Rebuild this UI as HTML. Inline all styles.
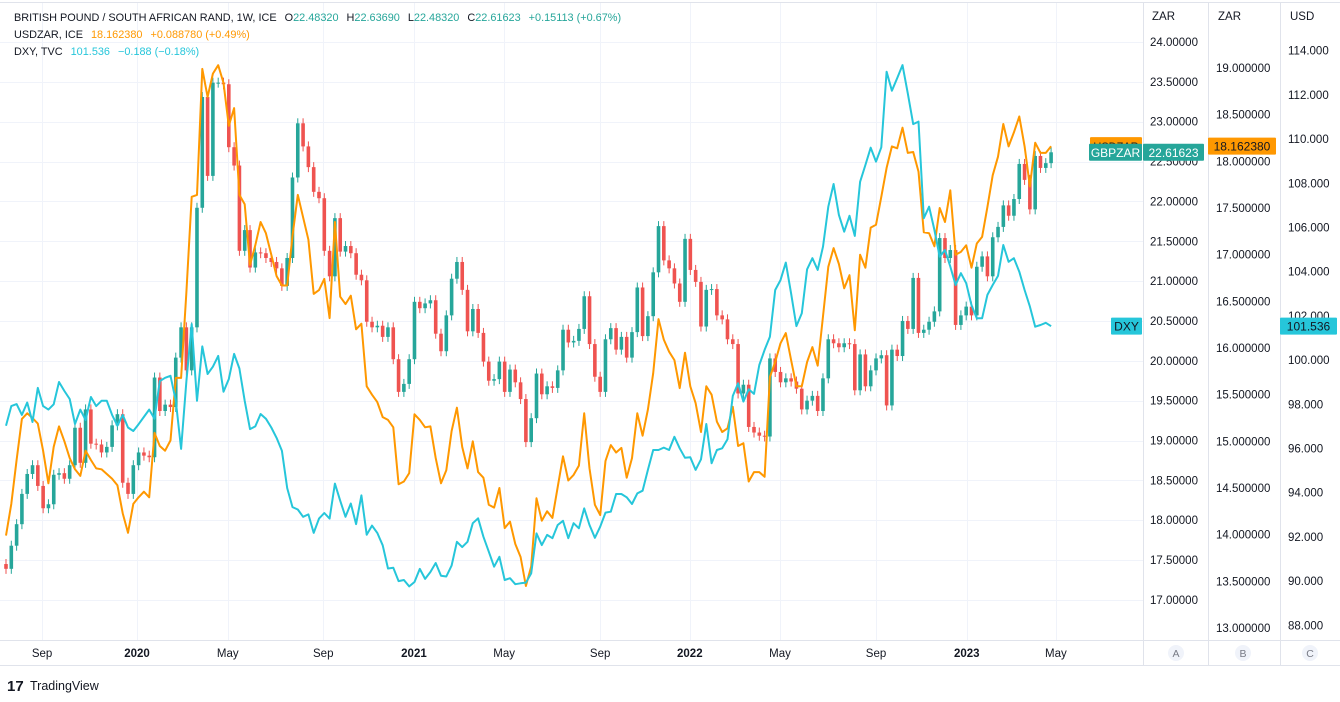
<!DOCTYPE html>
<html><head><meta charset="utf-8"><title>GBPZAR vs USDZAR vs DXY</title>
<style>
html,body{margin:0;padding:0;background:#fff;}
body{width:1340px;height:697px;overflow:hidden;font-family:"Liberation Sans",sans-serif;}
svg text{font-family:"Liberation Sans",sans-serif;}
</style></head>
<body>
<svg id="chart" width="1340" height="697" viewBox="0 0 1340 697" xmlns="http://www.w3.org/2000/svg">
  <rect x="0" y="0" width="1340" height="697" fill="#ffffff"/>
  <g id="grid"></g>
  <g id="candles"></g>
  <g id="lines"></g>
  <g id="axes"></g>
  <g id="legend">
    <text x="14" y="21" font-size="10.9" fill="#131722">BRITISH POUND / SOUTH AFRICAN RAND, 1W, ICE<tspan dx="8">O</tspan><tspan fill="#26a69a">22.48320</tspan><tspan dx="8">H</tspan><tspan fill="#26a69a">22.63690</tspan><tspan dx="8">L</tspan><tspan fill="#26a69a">22.48320</tspan><tspan dx="8">C</tspan><tspan fill="#26a69a">22.61623</tspan><tspan dx="8" fill="#26a69a">+0.15113 (+0.67%)</tspan></text>
    <text x="14" y="38" font-size="10.9" fill="#131722">USDZAR, ICE<tspan dx="8" fill="#ff9800">18.162380</tspan><tspan dx="8" fill="#ff9800">+0.088780 (+0.49%)</tspan></text>
    <text x="14" y="55" font-size="10.9" fill="#131722">DXY, TVC<tspan dx="8" fill="#26c6da">101.536</tspan><tspan dx="8" fill="#26c6da">−0.188 (−0.18%)</tspan></text>
  </g>
  <g>
    <text x="7" y="691" font-size="15" font-weight="bold" fill="#131722">17</text>
    <text x="30" y="690" font-size="12.5" fill="#131722">TradingView</text>
  </g>
</svg>
<script>
// ---- data (weekly, mid-Jul 2019 .. Apr 2023) ----
const gbpzarClose = [17.39,17.68,17.95,18.33,18.58,18.69,18.43,18.15,18.2,18.57,18.59,18.52,18.69,19.16,18.72,19.39,18.96,18.95,18.85,18.92,19.19,19.33,18.47,18.33,18.69,18.85,18.81,18.79,19.79,19.37,19.45,19.42,20.04,20.42,19.88,20.42,21.92,23.31,22.32,23.49,23.49,23.47,22.68,22.45,21.38,
21.64,21.17,21.36,21.35,21.29,21.24,21.16,20.94,21.29,22.3,22.98,22.69,22.43,22.12,22.04,21.38,21.06,21.79,21.37,21.44,21.35,21.08,21.01,20.49,20.42,20.44,20.3,20.42,20.02,19.61,19.71,20.02,20.74,20.66,20.72,20.76,20.34,20.12,20.57,21.03,21.24,20.89,20.37,
20.65,20.35,19.99,19.75,19.77,19.99,19.61,19.89,19.73,19.52,18.98,19.28,19.84,19.58,19.68,19.66,19.88,20.39,20.23,20.25,20.4,20.81,20.21,19.8,19.61,20.27,20.41,20.14,20.3,20.04,20.36,20.92,20.31,20.56,21.11,21.69,21.26,21.16,20.97,20.74,21.53,21.14,20.99,
20.43,20.89,20.9,20.57,20.52,20.27,20.21,19.59,19.7,19.17,19.1,19.06,19.05,20.03,19.86,19.73,19.78,19.74,19.65,19.39,19.5,19.56,19.37,19.78,20.27,20.22,20.17,20.22,20.21,19.63,20.08,19.68,19.88,20.03,20.07,19.44,20.14,20.06,20.5,20.4,21.04,20.35,20.39,20.49,
20.62,21.54,21.29,21.39,20.45,20.57,20.68,20.57,21.18,21.31,21.06,21.55,21.68,21.95,21.82,22.03,22.47,22.27,21.9,22.57,22.42,22.48,22.61623];
const gbpzarFirstOpen = 17.45;
const usdzar = [13.99,14.33,14.8,15.24,15.3,15.25,15.19,14.9,14.55,14.94,15.16,15.0,14.82,14.7,14.63,14.9,14.8,14.71,14.7,14.65,14.6,14.53,14.23,14.02,14.33,14.4,14.46,14.4,15.09,14.95,14.9,15.01,15.68,15.68,16.6,17.62,17.64,18.99,18.69,18.94,19.03,18.84,18.38,18.57,17.64,17.54,16.89,17.1,17.35,17.23,17.0,16.77,16.67,16.67,17.2,17.64,17.4,17.16,16.58,16.62,16.74,16.32,17.35,16.55,16.47,16.56,16.2,16.26,15.59,15.5,15.42,15.26,15.23,15.15,14.54,14.57,14.66,15.29,15.23,15.15,15.16,14.82,14.55,14.69,15.11,15.36,14.94,14.71,15.0,14.67,14.61,14.32,14.29,14.5,14.07,14.14,13.9,13.76,13.45,13.66,14.39,14.15,14.25,14.18,14.51,14.84,14.58,14.64,14.74,15.3,14.71,14.32,14.21,14.79,14.96,14.88,14.93,14.61,14.82,15.3,15.06,15.34,15.73,16.31,16.09,15.96,15.87,15.57,15.95,15.59,15.41,15.1,15.59,15.5,15.21,15.1,15.14,15.37,14.95,14.98,14.57,14.67,14.67,14.62,15.69,15.85,16.05,16.16,15.87,15.59,15.59,15.85,16.01,15.81,16.34,16.87,17.07,16.9,16.64,16.78,16.19,17.0,16.86,17.29,17.32,17.62,17.93,18.16,18.14,18.36,18.09,18.1,17.89,17.24,17.23,17.09,17.5,17.35,17.69,17.0,17.03,17.1,16.86,17.12,17.19,17.51,17.85,18.05,18.4,18.16,18.31,18.48,18.16,17.73,18.2,18.09,18.09,18.16238];
const dxy = [97.03,97.92,98.01,97.52,98.08,97.2,98.74,97.92,97.76,98.0,99.01,98.6,98.24,97.11,97.76,97.29,98.33,97.92,98.16,98.16,97.52,97.03,97.52,96.95,96.79,97.1,97.43,97.76,97.35,99.05,99.2,99.29,98.16,95.98,99.05,101.63,98.16,100.62,99.37,99.7,100.19,98.57,99.14,100.28,99.62,98.16,96.88,97.0,97.56,97.35,96.95,96.48,95.9,94.21,93.35,93.24,92.91,93.02,92.18,92.83,93.08,92.83,94.41,93.64,92.91,93.51,92.58,93.88,92.1,92.51,92.18,91.62,90.57,90.6,90.0,90.05,89.76,89.96,90.55,90.1,90.41,90.82,90.24,90.21,90.7,91.78,91.54,91.78,92.62,92.84,92.01,91.33,90.65,91.1,90.05,90.13,89.86,89.9,89.93,90.35,92.16,91.63,92.09,91.94,92.54,92.73,91.94,92.62,92.39,93.29,92.54,91.96,92.46,93.1,93.14,93.94,93.94,93.79,93.49,93.97,94.09,95.03,95.93,95.93,96.04,95.93,96.53,96.01,95.58,95.6,95.03,95.51,97.11,95.33,95.93,96.01,96.42,98.38,98.95,98.12,98.68,98.47,99.78,100.46,101.06,103.17,103.62,104.41,103.02,101.54,102.12,104.11,104.61,104.08,105.13,106.94,107.97,106.57,105.81,106.53,105.62,108.07,108.83,109.61,108.98,109.63,113.05,112.19,112.76,113.35,112.07,110.68,110.79,106.42,106.94,105.89,104.68,104.98,104.23,103.4,103.93,103.48,102.49,101.89,101.89,102.95,103.4,103.81,105.21,104.45,104.61,104.0,103.17,102.42,101.51,101.59,101.69,101.536];
const timeLabels = ["Sep","2020","May","Sep","2021","May","Sep","2022","May","Sep","2023","May"];
const timeLabelWeeks = [6.8,24.7,41.8,59.8,76.9,93.9,112,128.9,145.9,164,181.1,197.9];
const gbpTicks = ["24.00000","23.50000","23.00000","22.50000","22.00000","21.50000","21.00000","20.50000","20.00000","19.50000","19.00000","18.50000","18.00000","17.50000","17.00000"];
const usdzarTicks = ["19.000000","18.500000","18.000000","17.500000","17.000000","16.500000","16.000000","15.500000","15.000000","14.500000","14.000000","13.500000","13.000000"];
const dxyTicks = ["114.000","112.000","110.000","108.000","106.000","104.000","102.000","100.000","98.000","96.000","94.000","92.000","90.000","88.000"];

// ---- scales ----
const NS = "http://www.w3.org/2000/svg";
const xW = w => 6 + w * 5.305;
const yG = v => 42 + (24 - v) * 79.7;
const yU = v => 68 + (19 - v) * 93.33;
const yD = v => 50.7 + (114 - v) * 22.1;
function mk(tag, attrs, parent){const e=document.createElementNS(NS,tag);for(const k in attrs)e.setAttribute(k,attrs[k]);parent.appendChild(e);return e;}

const grid=document.getElementById('grid'), cg=document.getElementById('candles'), lg=document.getElementById('lines'), ax=document.getElementById('axes');

// grid
mk('line',{x1:0,y1:2.5,x2:1340,y2:2.5,stroke:'#e0e3eb','stroke-width':1},grid);
gbpTicks.forEach(t=>{const y=Math.round(yG(parseFloat(t)))+0.5;
  const g=mk('line',{x1:0,y1:y,x2:1143,y2:y,stroke:'#f0f3fa','stroke-width':1},grid);
  
  });
timeLabelWeeks.forEach(w=>{const x=Math.round(xW(w))+0.5;
  const g=mk('line',{x1:x,y1:3,x2:x,y2:640,stroke:'#f0f3fa','stroke-width':1},grid);
  
  });

// candles
gbpzarClose.forEach((c,i)=>{
  const o = i===0 ? gbpzarFirstOpen : gbpzarClose[i-1];
  const up = c>=o, col = up?'#26a69a':'#ef5350';
  const x = xW(i), yo=yG(o), yc=yG(c);
  const top=Math.min(yo,yc), bot=Math.max(yo,yc);
  const w=mk('line',{x1:x,y1:top-5,x2:x,y2:bot+5,stroke:col,'stroke-width':1},cg);
  
  
  const b=mk('rect',{x:x-1.8,y:top,width:3.6,height:Math.max(1,bot-top),fill:col},cg);
  
  
});

// lines
function line(arr, yf, col, name){
  const d=arr.map((v,i)=>(i?'L':'M')+xW(i).toFixed(1)+','+yf(v).toFixed(1)).join('');
  const p=mk('path',{d:d,fill:'none',stroke:col,'stroke-width':2,'stroke-linejoin':'round'},lg);
  
  
}
line(usdzar,yU,'#ff9800','usdzar-line');
line(dxy,yD,'#26c6da','dxy-line');

// axes panels
mk('rect',{x:1143,y:3,width:197,height:637,fill:'#fff'},ax);
[1143,1208,1280].forEach(x=>{const l=mk('line',{x1:x+0.5,y1:3,x2:x+0.5,y2:665,stroke:'#e0e3eb'},ax);
  
  });
mk('line',{x1:0,y1:640.5,x2:1340,y2:640.5,stroke:'#e0e3eb'},ax);
mk('line',{x1:0,y1:665.5,x2:1340,y2:665.5,stroke:'#e0e3eb'},ax);
[['ZAR',1152,'gbpzar-axis-title'],['ZAR',1218,'usdzar-axis-title'],['USD',1290,'dxy-axis-title']].forEach(a=>{
  const t=mk('text',{x:a[1],y:20,'font-size':11.5,fill:'#131722'},ax);t.textContent=a[0];
  
  });
gbpTicks.forEach(t=>{const e=mk('text',{x:1150,y:yG(parseFloat(t))+4,'font-size':11.5,fill:'#131722'},ax);e.textContent=t;
  
  });
usdzarTicks.forEach(t=>{const e=mk('text',{x:1216,y:yU(parseFloat(t))+4,'font-size':11.5,fill:'#131722'},ax);e.textContent=t;
  
  });
dxyTicks.forEach(t=>{const e=mk('text',{x:1288,y:yD(parseFloat(t))+4,'font-size':11.5,fill:'#131722'},ax);e.textContent=t;
  
  });
timeLabels.forEach((t,i)=>{const e=mk('text',{x:xW(timeLabelWeeks[i]),y:657,'font-size':11.5,fill:'#131722','text-anchor':'middle','font-weight':/^\d/.test(t)?'bold':'normal'},ax);e.textContent=t;
  
  });
['A','B','C'].forEach((t,i)=>{const cx=[1176,1243,1310][i];
  const c=mk('circle',{cx:cx,cy:653,r:8,fill:'#f0f3fa'},ax);
  
  
  const e=mk('text',{x:cx,y:657,'font-size':10.5,fill:'#787b86','text-anchor':'middle'},ax);e.textContent=t;});

// price badges
function badge(x,y,w,h,col,txt,name,fs,tc){const g=mk('g',{},ax);
  
  
  mk('rect',{x:x,y:y,width:w,height:h,fill:col,rx:1},g);
  const t=mk('text',{x:x+w/2,y:y+h/2+4.5,'font-size':fs||12,fill:tc,'text-anchor':'middle'},g);t.textContent=txt;}
const lastG=gbpzarClose[gbpzarClose.length-1], lastU=usdzar[usdzar.length-1], lastD=dxy[dxy.length-1];
badge(1090,yU(lastU)-9,52,17,'#ff9800','USDZAR','usdzar-name-tag',11,'#131722');
badge(1089,yG(lastG)-8.5,53,17,'#26a69a','GBPZAR','gbpzar-name-tag',12,'#fff');
badge(1143,yG(lastG)-8.5,61,17,'#26a69a',lastG.toFixed(5),'gbpzar-price-tag',12,'#fff');
badge(1208,yU(lastU)-8.5,68,17,'#ff9800',lastU.toFixed(6),'usdzar-price-tag',12,'#131722');
badge(1111,yD(lastD)-8.5,31,17,'#26c6da','DXY','dxy-name-tag',12,'#131722');
badge(1280,yD(lastD)-8.5,57,17,'#26c6da',lastD.toFixed(3),'dxy-price-tag',12,'#131722');
</script>
</body></html>
